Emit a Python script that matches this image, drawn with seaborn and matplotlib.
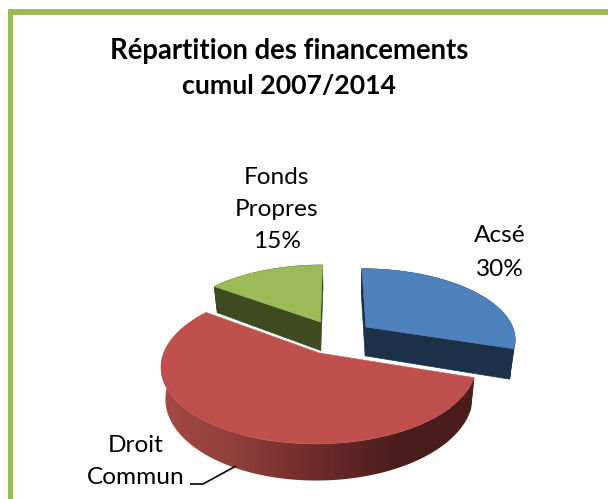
import numpy as np
import matplotlib
matplotlib.use("Agg")
import matplotlib.pyplot as plt
from matplotlib.patches import Polygon, Rectangle
import seaborn as sns

categories = ["Acsé", "Droit Commun", "Fonds Propres"]
shares = [30, 55, 15]
title_lines = ["Répartition des financements", "cumul 2007/2014"]

sns.set_theme(style="white")
plt.rcParams["font.family"] = ["Lato", "DejaVu Sans"]

top_cols = sns.color_palette(["#4F81BD", "#C0504D", "#9BBB59"])
wall_cols = sns.color_palette(["#1D3049", "#4A1C1B", "#404A20"])
arc_ramp = sns.blend_palette(["#A84A46", "#8F3F3B", "#6E2B2A", "#4C1D1D", "#4A1C1B"], 256)

fig = plt.figure(figsize=(6.08, 4.99), dpi=100, facecolor="white")
ax = fig.add_axes([0, 0, 1, 1])

# the library lays out the wedges; they are then projected to a tilted view
EXPLODE = 0.247
wedges, _ = ax.pie(shares, startangle=90, counterclock=False, radius=1.0,
                   explode=[EXPLODE] * len(shares))
geom = [(w.center, w.theta1, w.theta2) for w in wedges]
for w in wedges:
    w.set_visible(False)

CX, CY, A, B, K, DEPTH, SHRINK = 336.6, 337.0, 150.0, 70.5, 0.16, 29.5, 0.975


def project(u, v, low=False):
    u, v = np.asarray(u, float), np.asarray(v, float)
    s = 1 / (1 + K * v)
    if low:
        return CX + A * u * s * SHRINK, CY - B * v * s + DEPTH * s
    return CX + A * u * s, CY - B * v * s


def arc(center, t1, t2, n=240):
    t = np.radians(np.linspace(t1, t2, n))
    return center[0] + np.cos(t), center[1] + np.sin(t)


def poly(x, y, color, z, lw=0.5):
    p = Polygon(np.column_stack([x, y]), closed=True, fc=color, ec=color, lw=lw, zorder=z)
    ax.add_patch(p)
    return p


def wall(p, q, color, z):
    x1, y1 = project([p[0], q[0]], [p[1], q[1]])
    x2, y2 = project([q[0], p[0]], [q[1], p[1]], low=True)
    poly(np.r_[x1, x2], np.r_[y1, y2], color, z)


# back to front: green, blue, red
for idx, z in ((2, 2), (0, 3), (1, 4)):
    c, t1, t2 = geom[idx]
    ua, va = arc(c, t1, t2)
    xt, yt = project(ua, va)
    xb, yb = project(ua, va, low=True)
    wall(c, (ua[0], va[0]), wall_cols[idx], z)
    wall(c, (ua[-1], va[-1]), wall_cols[idx], z)
    side = poly(np.r_[xt, xb[::-1]], np.r_[yt, yb[::-1]], wall_cols[idx], z + 0.1)
    if idx == 1:
        side.set_visible(False)
        grad = np.array(arc_ramp)[np.newaxis, :, :]
        im = ax.imshow(grad, extent=(160, 473, 499, 250), aspect="auto", zorder=z + 0.1, interpolation="bilinear")
        clip = Polygon(np.column_stack([np.r_[xt, xb[::-1]], np.r_[yt, yb[::-1]]]), closed=True,
                       transform=ax.transData)
        im.set_clip_path(clip)
    ax_, ay_ = project(c[0], c[1])
    poly(np.r_[ax_, xt], np.r_[ay_, yt], top_cols[idx], z + 0.2, lw=0.4)
    if idx == 1:
        ax.plot([xt[0], ax_, xt[-1]], [yt[0], ay_, yt[-1]], color="white", lw=0.8, zorder=z + 0.15)

ax.set_xlim(0, 608)
ax.set_ylim(499, 0)
ax.set_aspect("auto")
ax.axis("off")

# frame: top and left edges only
GREEN = "#9BBB59"
ax.add_patch(Rectangle((8, 9), 700, 6, fc=GREEN, ec="none", zorder=1))
ax.add_patch(Rectangle((8, 9), 5, 500, fc=GREEN, ec="none", zorder=1))

# title
ax.text(289, 51, title_lines[0], ha="center", va="center", fontsize=19.8, fontweight="bold", color="black", zorder=6)
ax.text(289, 86, title_lines[1], ha="center", va="center", fontsize=19.2, fontweight="bold", color="black", zorder=6)

# labels
txt = dict(ha="center", va="center", fontsize=17.6, color="black", zorder=6)
for s, y in zip(["Fonds", "Propres", f"{shares[2]}%"], [177, 209, 241]):
    ax.text(277, y, s, **txt)
for s, y in zip([categories[0], f"{shares[0]}%"], [236, 269]):
    ax.text(500, y, s, **txt)
for s, y in zip(["Droit", "Commun"], [445, 477]):
    ax.text(136, y, s, **txt)
ax.plot([190, 203, 236], [484, 484, 466], color="black", lw=1.2, zorder=6, solid_capstyle="butt")

fig.savefig("out.png", dpi=100, facecolor="white")
